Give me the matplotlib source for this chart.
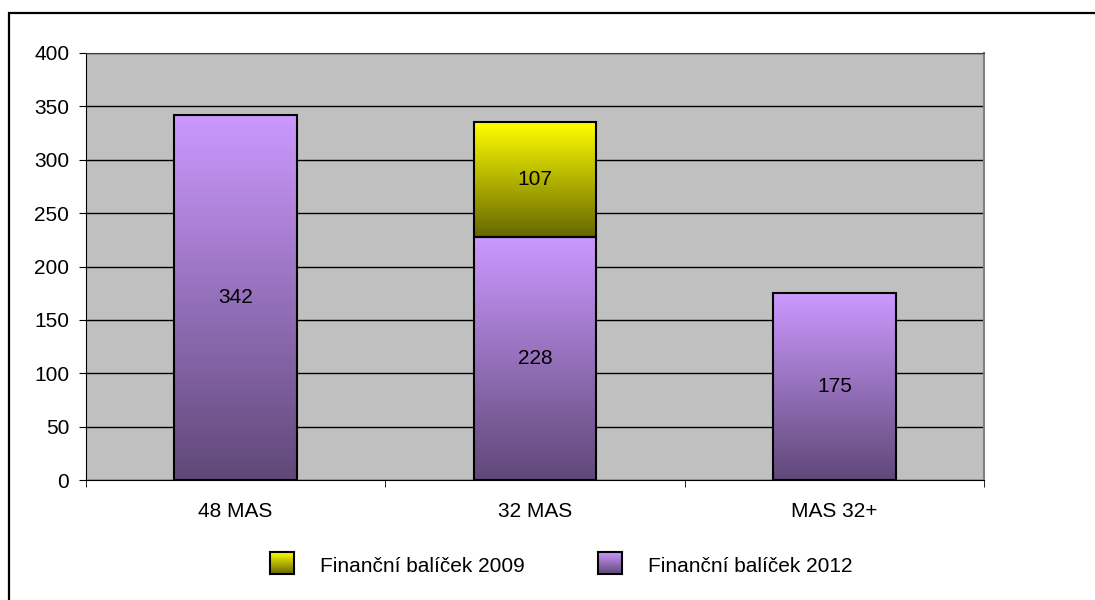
import numpy as np
import matplotlib
matplotlib.use("Agg")
import matplotlib.pyplot as plt
from matplotlib.patches import Rectangle

categories = ["48 MAS", "32 MAS", "MAS 32+"]
balicek_2012 = [342, 228, 175]
balicek_2009 = [0, 107, 0]
series_labels = ["Finanční balíček 2009", "Finanční balíček 2012"]
yticks = [0, 50, 100, 150, 200, 250, 300, 350, 400]

purple = ((204, 153, 255), (96, 72, 120))
yellow = ((255, 255, 0), (102, 102, 0))

plt.rcParams["font.family"] = ["Liberation Sans", "DejaVu Sans"]
plt.rcParams["font.size"] = 15


def gradient(colors):
    top, bottom = np.array(colors[0]) / 255, np.array(colors[1]) / 255
    t = np.linspace(0, 1, 256)[:, None]
    return (top * (1 - t) + bottom * t)[:, None, :]


def fill_gradient(ax, bars, colors):
    for b in bars:
        if b.get_height() == 0:
            continue
        x0, y0 = b.get_x(), b.get_y()
        ax.imshow(gradient(colors), extent=[x0, x0 + b.get_width(), y0, y0 + b.get_height()],
                  aspect="auto", zorder=2, interpolation="bilinear")


fig = plt.figure(figsize=(10.95, 6), dpi=100)
ax = fig.add_axes([86 / 1095, 120 / 600, 898 / 1095, 427 / 600])
ax.set_facecolor("#C0C0C0")

x = np.arange(len(categories))
w = 0.41
b12 = ax.bar(x, balicek_2012, w, facecolor="none", edgecolor="black", lw=1.5, zorder=3)
b09 = ax.bar(x, balicek_2009, w, bottom=balicek_2012, facecolor="none",
             edgecolor="black", lw=1.5, zorder=3)
b09[0].set_visible(False)
b09[2].set_visible(False)
fill_gradient(ax, b12, purple)
fill_gradient(ax, b09, yellow)

for bars in (b12, b09):
    for b in bars:
        h = b.get_height()
        if h:
            ax.text(b.get_x() + b.get_width() / 2, b.get_y() + h / 2, str(int(h)),
                    ha="center", va="center", zorder=4)

ax.set_xlim(-0.5, 2.5)
ax.set_ylim(0, 400)
ax.set_yticks(yticks)
ax.yaxis.grid(True, color="black", lw=1)
ax.set_axisbelow(True)
ax.set_xticks(x)
ax.set_xticklabels(categories)
ax.tick_params(axis="x", length=0, pad=16)
ax.set_xticks([-0.5, 0.5, 1.5, 2.5], minor=True)
ax.tick_params(axis="x", which="minor", length=5, color="black")
ax.tick_params(axis="y", length=5, pad=7)
for s in ("left", "bottom"):
    ax.spines[s].set_color("black")
ax.spines["top"].set_color("#404040")
ax.spines["right"].set_color("#808080")
ax.spines["right"].set_linewidth(1.5)

# legend
for i, (lbl, cols) in enumerate(zip(series_labels, [yellow, purple])):
    x0 = [270, 598][i]
    lax = fig.add_axes([x0 / 1095, 26 / 600, 24 / 1095, 22 / 600])
    lax.imshow(gradient(cols), aspect="auto", extent=[0, 1, 0, 1])
    lax.set_xticks([])
    lax.set_yticks([])
    for sp in lax.spines.values():
        sp.set_linewidth(1.5)
    fig.text((x0 + 50) / 1095, 33 / 600, lbl, va="center", ha="left")

fig.add_artist(Rectangle((9 / 1095, -0.1), 1.2, (587 / 600) + 0.1, transform=fig.transFigure,
                         fill=False, edgecolor="black", lw=1.6, clip_on=False))

fig.savefig("out.png", dpi=100)
